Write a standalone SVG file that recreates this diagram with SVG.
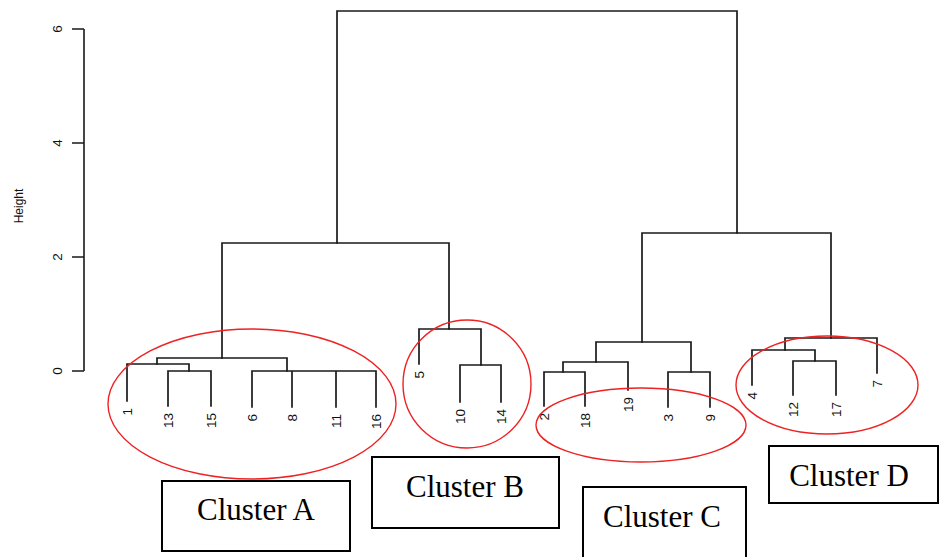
<svg xmlns="http://www.w3.org/2000/svg" width="941" height="557" viewBox="0 0 941 557">
<style>
.ln{fill:none;stroke:#1a1a1a;stroke-width:1.7;stroke-linecap:square}
.ax{fill:none;stroke:#1a1a1a;stroke-width:1.6}
.lbl{font-family:"Liberation Sans",Arial,sans-serif;font-size:13.5px;fill:#111;text-anchor:end}
.tk{font-family:"Liberation Sans",Arial,sans-serif;font-size:13.5px;fill:#111;text-anchor:middle}
.ell{fill:none;stroke:#ee2222;stroke-width:1.4}
.box{fill:#fff;stroke:#000;stroke-width:2}
.bt{font-family:"Liberation Serif","Times New Roman",serif;font-size:31px;fill:#000;text-anchor:middle}
</style>
<rect width="941" height="557" fill="#fff"/>
<g id="axis">
<path class="ax" d="M84,29 V371 M72,29 H84 M72,143 H84 M72,257 H84 M72,371 H84"/>
<text class="tk" transform="translate(57,371) rotate(-90)" dy="0.35em">0</text>
<text class="tk" transform="translate(57,257) rotate(-90)" dy="0.35em">2</text>
<text class="tk" transform="translate(57,143) rotate(-90)" dy="0.35em">4</text>
<text class="tk" transform="translate(57,29) rotate(-90)" dy="0.35em">6</text>
<text class="tk" style="font-size:12px" transform="translate(19,206) rotate(-90)" dy="0.35em">Height</text>
</g>
<g id="connectors">
<path class="ln" d="M337,243 V11 H737 V233"/>
<path class="ln" d="M222,358 V243 H449 V329"/>
<path class="ln" d="M157,364 V358 H287 V371"/>
<path class="ln" d="M127,401 V364 H189 V371"/>
<path class="ln" d="M168,406 V371 H211 V406"/>
<path class="ln" d="M252,407 V371 H376 V407 M292,371 V407 M336,371 V407"/>
<path class="ln" d="M419,364 V329 H481 V365"/>
<path class="ln" d="M460,402 V365 H501 V402"/>
<path class="ln" d="M642,342 V233 H831 V338"/>
<path class="ln" d="M596,362 V342 H691 V372"/>
<path class="ln" d="M563,372 V362 H628 V390"/>
<path class="ln" d="M544,406 V372 H585 V406"/>
<path class="ln" d="M668,407 V372 H710 V407"/>
<path class="ln" d="M785,350 V338 H877 V373"/>
<path class="ln" d="M752,385 V350 H815 V361"/>
<path class="ln" d="M793,395 V361 H836 V395"/>
</g>
<g id="leaves">
<text class="lbl" transform="translate(127,408) rotate(-90)" dy="0.35em">1</text>
<text class="lbl" transform="translate(168,413) rotate(-90)" dy="0.35em">13</text>
<text class="lbl" transform="translate(211,413) rotate(-90)" dy="0.35em">15</text>
<text class="lbl" transform="translate(252,414) rotate(-90)" dy="0.35em">6</text>
<text class="lbl" transform="translate(292,414) rotate(-90)" dy="0.35em">8</text>
<text class="lbl" transform="translate(336,414) rotate(-90)" dy="0.35em">11</text>
<text class="lbl" transform="translate(376,414) rotate(-90)" dy="0.35em">16</text>
<text class="lbl" transform="translate(419,371) rotate(-90)" dy="0.35em">5</text>
<text class="lbl" transform="translate(460,409) rotate(-90)" dy="0.35em">10</text>
<text class="lbl" transform="translate(501,409) rotate(-90)" dy="0.35em">14</text>
<text class="lbl" transform="translate(544,413) rotate(-90)" dy="0.35em">2</text>
<text class="lbl" transform="translate(585,413) rotate(-90)" dy="0.35em">18</text>
<text class="lbl" transform="translate(628,397) rotate(-90)" dy="0.35em">19</text>
<text class="lbl" transform="translate(668,414) rotate(-90)" dy="0.35em">3</text>
<text class="lbl" transform="translate(710,414) rotate(-90)" dy="0.35em">9</text>
<text class="lbl" transform="translate(752,392) rotate(-90)" dy="0.35em">4</text>
<text class="lbl" transform="translate(793,402) rotate(-90)" dy="0.35em">12</text>
<text class="lbl" transform="translate(836,402) rotate(-90)" dy="0.35em">17</text>
<text class="lbl" transform="translate(877,380) rotate(-90)" dy="0.35em">7</text>
</g>
<g id="clusterA">
<ellipse class="ell" cx="252" cy="404" rx="144" ry="75"/>
<rect class="box" x="162" y="481" width="188" height="70"/>
<text class="bt" x="256" y="520">Cluster A</text>
</g>
<g id="clusterB">
<ellipse class="ell" cx="467" cy="384" rx="64" ry="64"/>
<rect class="box" x="372" y="457" width="187" height="71"/>
<text class="bt" x="465" y="497">Cluster B</text>
</g>
<g id="clusterC">
<ellipse class="ell" cx="641" cy="425" rx="105" ry="37"/>
<rect class="box" x="583" y="487" width="163" height="80"/>
<text class="bt" x="662" y="527">Cluster C</text>
</g>
<g id="clusterD">
<ellipse class="ell" cx="827" cy="385" rx="91" ry="49"/>
<rect class="box" x="769" y="446" width="169" height="57"/>
<text class="bt" x="849" y="486">Cluster D</text>
</g>
</svg>
